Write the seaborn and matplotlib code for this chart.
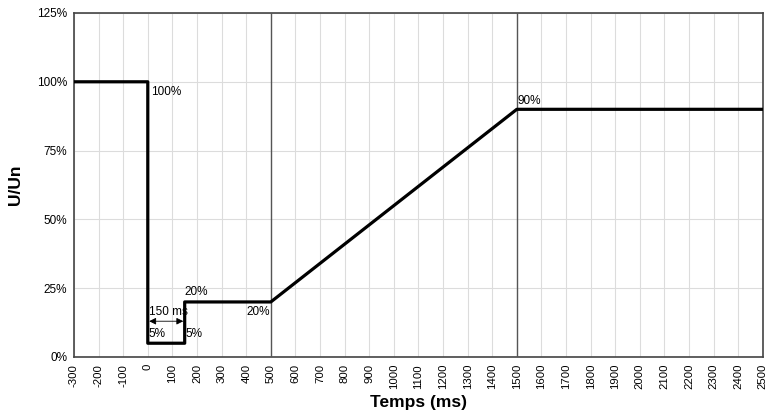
import pandas as pd
import matplotlib.pyplot as plt
import seaborn as sns
from matplotlib.ticker import PercentFormatter

# Profil de tension (creux de tension)
temps = [-300, 0, 0, 150, 150, 500, 1500, 2500]
tension = [1.00, 1.00, 0.05, 0.05, 0.20, 0.20, 0.90, 0.90]

x_ticks = list(range(-300, 2501, 100))
y_ticks = [0, 0.25, 0.5, 0.75, 1.0, 1.25]

df = pd.DataFrame({"Temps (ms)": temps, "U/Un": tension})

sns.set_style("white")
plt.rcParams["font.family"] = ["Liberation Sans", "DejaVu Sans"]
plt.rcParams["axes.unicode_minus"] = False
plt.rcParams["text.color"] = "black"

fig = plt.figure(figsize=(7.69, 4.19), dpi=100)
ax = fig.add_axes([0.0962, 0.148, 0.8958, 0.821])

# estimator=None pour garder les marches verticales
sns.lineplot(data=df, x="Temps (ms)", y="U/Un", sort=False, estimator=None,
             color="black", linewidth=2.3, ax=ax, zorder=5)

ax.set_xlim(-300, 2500)
ax.set_ylim(0, 1.25)
ax.set_xticks(x_ticks)
ax.set_yticks(y_ticks)
ax.yaxis.set_major_formatter(PercentFormatter(1.0, decimals=0))
ax.tick_params(axis="x", labelrotation=90, labelsize=8.2, length=3, pad=2)
ax.tick_params(axis="y", labelsize=8.5, length=3, pad=2)
ax.tick_params(direction="out", color="#444444", labelcolor="black")
ax.grid(True, color="#dcdcdc", linewidth=0.8)

# lignes verticales marquées
for xv in [500, 1500]:
    ax.axvline(xv, color="#555555", linewidth=1.0, zorder=3)

for sp in ax.spines.values():
    sp.set_color("#444444")
    sp.set_linewidth(1.2)
    sp.set_visible(True)

ax.set_xlabel("Temps (ms)", fontsize=12.5, fontweight="bold", labelpad=4, color="black")
ax.set_ylabel("U/Un", fontsize=12.5, fontweight="bold", labelpad=10, color="black")

# annotations
ax.text(12, 0.985, "100%", fontsize=8.5, va="top", ha="left")
ax.text(3, 0.062, "5%", fontsize=8.5, va="bottom", ha="left")
ax.text(153, 0.062, "5%", fontsize=8.5, va="bottom", ha="left")
ax.text(148, 0.215, "20%", fontsize=8.5, va="bottom", ha="left")
ax.text(495, 0.185, "20%", fontsize=8.5, va="top", ha="right")
ax.text(1503, 0.91, "90%", fontsize=8.5, va="bottom", ha="left")
ax.annotate("", xy=(0, 0.13), xytext=(150, 0.13),
            arrowprops=dict(arrowstyle="<|-|>", color="black", lw=0.6,
                            mutation_scale=10, shrinkA=1, shrinkB=1))
ax.text(3, 0.14, "150 ms", fontsize=8.5, va="bottom", ha="left")

plt.savefig("out.png", dpi=100)
